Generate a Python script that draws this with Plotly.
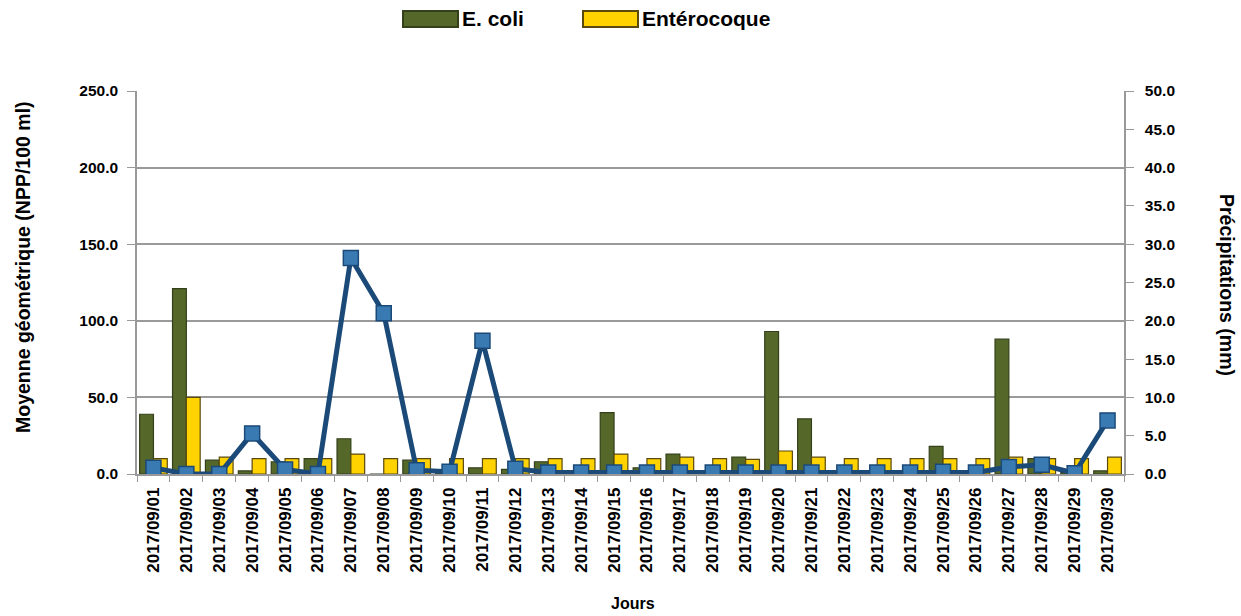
import plotly.graph_objects as go

dates = [f"2017/09/{d:02d}" for d in range(1, 31)]
ecoli = [39, 121, 9, 2, 8, 10, 23, 0, 9, 1,
         4, 3, 8, 0, 40, 4, 13, 1, 11, 93,
         36, 2, 0, 0, 18, 0, 88, 10, 1, 2]
entero = [10, 50, 11, 10, 10, 10, 13, 10, 10, 10,
          10, 10, 10, 10, 13, 10, 11, 10, 9.5, 15,
          11, 10, 10, 10, 10, 10, 11, 10, 10, 11]
precip = [0.8, 0.0, 0.0, 5.3, 0.6, 0.0, 28.2, 21.0, 0.5, 0.3,
          17.4, 0.7, 0.2, 0.2, 0.2, 0.2, 0.2, 0.2, 0.2, 0.2,
          0.2, 0.2, 0.2, 0.2, 0.3, 0.2, 0.9, 1.2, 0.1, 7.0]
series_names = ["E. coli", "Entérocoque"]
series_colors = ["#56672a", "#ffd200"]
series_lines = ["#33401a", "#5a4a10"]

font = "Arial, Liberation Sans, sans-serif"
W, H = 1241, 616
L, R, T, B = 137, 117, 91, 142
PW, PH = W - L - R, H - T - B


def px(x):
    return (x - L) / PW


def py(y):
    return (H - B - y) / PH


fig = go.Figure()
for vals, name, col, lc in zip([ecoli, entero], series_names, series_colors, series_lines):
    fig.add_trace(go.Bar(x=dates, y=vals, name=name, showlegend=False,
                         marker=dict(color=col, line=dict(color=lc, width=1.2))))
fig.add_trace(go.Scatter(x=dates, y=precip, yaxis="y2", mode="lines+markers",
                         showlegend=False, name="Précipitations",
                         line=dict(color="#1b4a78", width=5),
                         marker=dict(symbol="square", size=15, color="#3a7ab3",
                                     line=dict(color="#1b4a78", width=1.5))))

# legend drawn as swatches + text
shapes = []
annotations = []
leg_x = [403, 583]
for i, (name, col, lc) in enumerate(zip(series_names, series_colors, series_lines)):
    x0 = leg_x[i]
    shapes.append(dict(type="rect", xref="paper", yref="paper",
                       x0=px(x0), x1=px(x0 + 55), y0=py(27), y1=py(11),
                       fillcolor=col, line=dict(color=lc, width=2)))
    annotations.append(dict(text=f"<b>{name}</b>", xref="paper", yref="paper",
                            x=px(x0 + 57), y=py(19), xanchor="left", yanchor="middle",
                            showarrow=False,
                            font=dict(family=font, size=21, color="black")))

annotations.append(dict(text="<b>Précipitations (mm)</b>", textangle=90,
                        xref="paper", yref="paper", x=px(1227), y=py(285),
                        xanchor="center", yanchor="middle", showarrow=False,
                        font=dict(family=font, size=19.5, color="black")))
annotations.append(dict(text="<b>Moyenne géométrique (NPP/100 ml)</b>", textangle=-90,
                        xref="paper", yref="paper", x=px(23), y=py(267),
                        xanchor="center", yanchor="middle", showarrow=False,
                        font=dict(family=font, size=19.5, color="black")))
annotations.append(dict(text="<b>Jours</b>",
                        xref="paper", yref="paper", x=px(633), y=py(603),
                        xanchor="center", yanchor="middle", showarrow=False,
                        font=dict(family=font, size=16, color="black")))

fig.update_layout(
    width=W, height=H,
    margin=dict(l=L, r=R, t=T, b=B, autoexpand=False),
    paper_bgcolor="white", plot_bgcolor="white",
    barmode="group", bargap=0.16, bargroupgap=0.0,
    font=dict(family=font, size=13, color="black"),
    showlegend=False,
    xaxis=dict(type="category", range=[-0.5, 29.5], tickangle=-90, showgrid=False,
               showline=True, linecolor="#999", linewidth=1.5,
               ticks="outside", tickson="boundaries", ticklen=6, tickcolor="#999",
               ticklabelstandoff=5,
               tickfont=dict(family=font, size=17, weight="bold")),
    yaxis=dict(range=[0, 250], dtick=50, tickformat=".1f",
               showgrid=True, gridcolor="#9a9a9a", gridwidth=1.5,
               showline=True, linecolor="#999", linewidth=1.5,
               ticks="outside", ticklen=8, tickcolor="#999",
               ticklabelstandoff=6,
               tickfont=dict(family=font, size=15.5, weight="bold"),
               zeroline=False),
    yaxis2=dict(range=[0, 50], dtick=5, tickformat=".1f", overlaying="y", side="right",
                showgrid=False, showline=True, linecolor="#999", linewidth=1.5,
                ticks="outside", ticklen=8, tickcolor="#999",
                ticklabelstandoff=8,
                tickfont=dict(family=font, size=15.5, weight="bold"), zeroline=False),
    shapes=shapes,
    annotations=annotations,
)

fig.write_html("out.html")
